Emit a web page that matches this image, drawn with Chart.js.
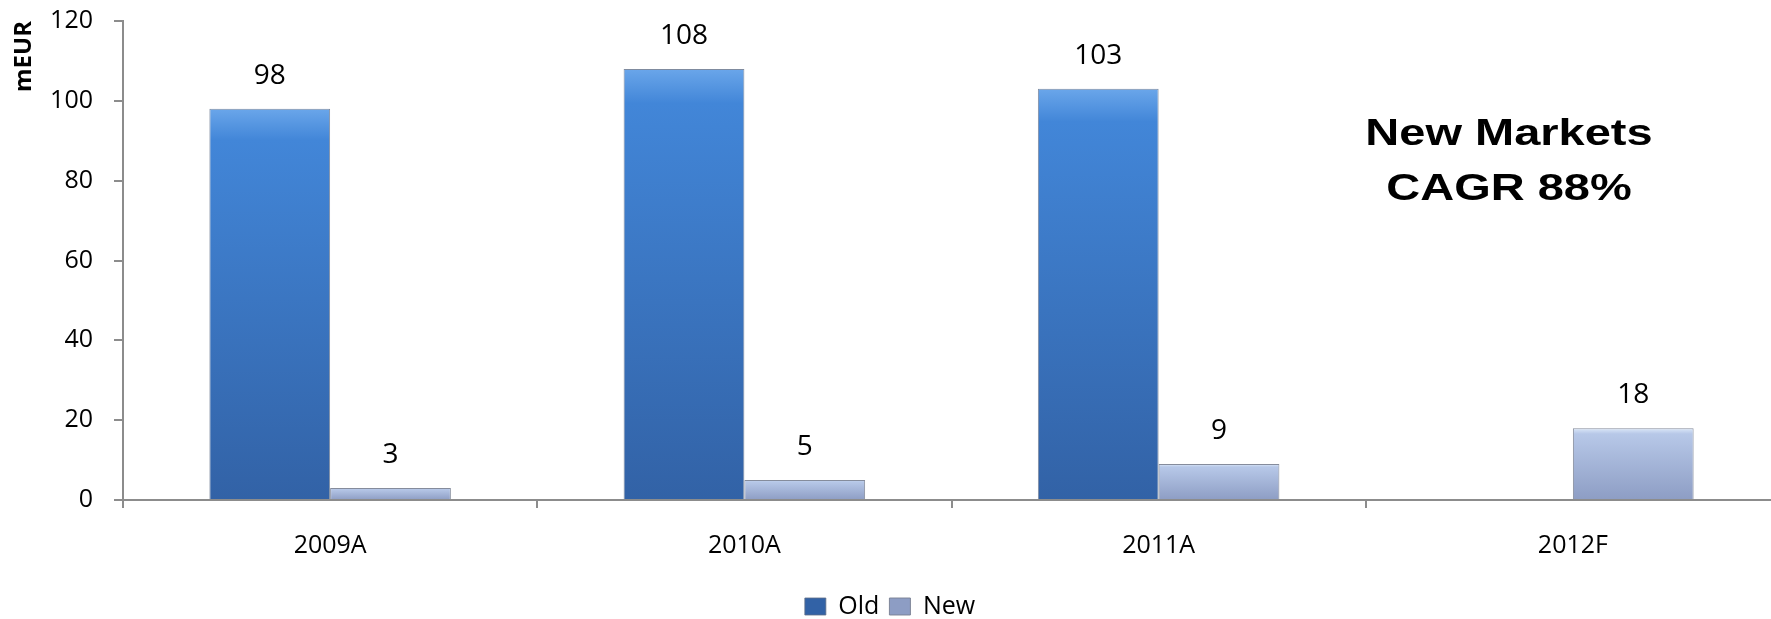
<!DOCTYPE html>
<html>
<head>
<meta charset="utf-8">
<script src="https://cdn.jsdelivr.net/npm/chart.js@4/dist/chart.umd.min.js"></script>
<style>
  html, body { margin: 0; padding: 0; background: #fff; overflow: hidden; }
  #wrap { width: 1780px; height: 619px; position: relative; }
</style>
</head>
<body>
<div id="wrap"><canvas id="myChart"></canvas></div>
<script>
// data
const years = ["2009A", "2010A", "2011A", "2012F"];
const oldValues = [98, 108, 103, null];
const newValues = [3, 5, 9, 18];
const yTicks = [0, 20, 40, 60, 80, 100, 120];
const noteLines = ["New Markets", "CAGR 88%"];

const axisGrey = "#8c8c8c";

// vertical gradient running from the bar top to the zero line
function barFill(stops, plain) {
  return function (ctx) {
    const chart = ctx.chart;
    if (!chart.chartArea || ctx.raw == null) return plain;
    const y = chart.scales.y;
    const top = y.getPixelForValue(ctx.raw);
    const base = y.getPixelForValue(0);
    const g = chart.ctx.createLinearGradient(0, top, 0, base);
    g.addColorStop(0, stops[0]);
    g.addColorStop(0.08, stops[1]);
    g.addColorStop(1, stops[2]);
    return g;
  };
}

// numbers above each bar
const valueLabels = {
  id: "valueLabels",
  afterDatasetsDraw(chart) {
    const c = chart.ctx;
    c.save();
    c.font = "28px 'Open Sans'";
    c.fillStyle = "#000";
    c.textAlign = "center";
    c.textBaseline = "middle";
    chart.data.datasets.forEach((ds, i) => {
      const meta = chart.getDatasetMeta(i);
      meta.data.forEach((bar, j) => {
        if (ds.data[j] == null) return;
        c.fillText(String(ds.data[j]), bar.x, bar.y - 33);
      });
    });
    c.restore();
  }
};

// the bold note on the right (the source text is a bit stretched sideways)
const note = {
  id: "note",
  afterDraw(chart) {
    const c = chart.ctx;
    c.save();
    c.font = "bold 37px 'Liberation Sans'";
    c.fillStyle = "#000";
    c.textAlign = "center";
    c.textBaseline = "middle";
    c.translate(1509, 0);
    c.scale(1.27, 1);
    c.fillText(noteLines[0], 0, 135);
    c.fillText(noteLines[1], 0, 190);
    c.restore();
  }
};

const ctx = document.getElementById("myChart").getContext("2d");
new Chart(ctx, {
  type: "bar",
  data: {
    labels: years,
    datasets: [
      {
        label: "Old",
        data: oldValues,
        backgroundColor: barFill(["#6aa6ea", "#4286d8", "#3262a6"], "#3b74c2"),
        borderColor: "rgba(95,110,135,0.8)",
        borderWidth: 1
      },
      {
        label: "New",
        data: newValues,
        backgroundColor: barFill(["#dce8f8", "#b7c8e8", "#8d9dc4"], "#9ba9cd"),
        borderColor: "rgba(120,128,145,0.9)",
        borderWidth: 1
      }
    ]
  },
  options: {
    responsive: true,
    maintainAspectRatio: false,
    animation: false,
    layout: { padding: { top: 21, right: 0, bottom: -10, left: 0 } },
    datasets: {
      bar: { categoryPercentage: 0.583, barPercentage: 1 }
    },
    scales: {
      x: {
        grid: {
          offset: true,
          drawOnChartArea: false,
          drawTicks: true,
          tickLength: 8,
          color: axisGrey,
          lineWidth: 2
        },
        border: { display: true, color: axisGrey, width: 2 },
        ticks: {
          color: "#000",
          padding: 23,
          font: { family: "'Open Sans'", size: 25 }
        },
        afterFit(scale) {
          scale.paddingLeft = 0;
          scale.paddingRight = 0;
        }
      },
      y: {
        min: 0,
        max: 120,
        afterBuildTicks(scale) {
          scale.ticks = yTicks.map((v) => ({ value: v }));
        },
        grid: {
          drawOnChartArea: false,
          drawTicks: true,
          tickLength: 9,
          color: axisGrey,
          lineWidth: 2
        },
        border: { display: true, color: axisGrey, width: 2 },
        ticks: {
          color: "#000",
          padding: 21,
          font: { family: "'Open Sans'", size: 25 }
        },
        title: {
          display: true,
          text: "mEUR",
          align: "end",
          color: "#000",
          padding: { top: 10, bottom: 0 },
          font: { family: "'Open Sans'", size: 24, weight: "bold" }
        },
        afterFit(scale) {
          scale.width = 123;
          scale.paddingTop = 0;
          scale.paddingBottom = 0;
        }
      }
    },
    plugins: {
      legend: {
        position: "bottom",
        labels: {
          color: "#000",
          boxWidth: 21,
          boxHeight: 17,
          padding: 10,
          font: { family: "'Open Sans'", size: 25 }
        }
      },
      tooltip: { enabled: false }
    }
  },
  plugins: [valueLabels, note]
});
</script>
</body>
</html>
